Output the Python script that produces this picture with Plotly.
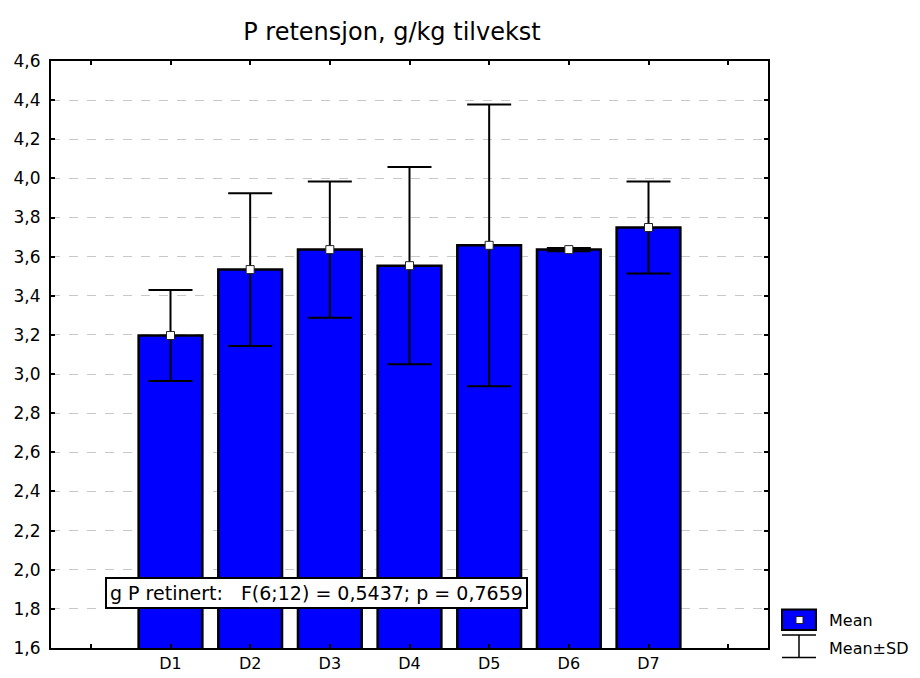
import plotly.graph_objects as go

# Group labels and statistics (mean and standard deviation per diet)
groups = ["D1", "D2", "D3", "D4", "D5", "D6", "D7"]
means = [3.197, 3.534, 3.636, 3.554, 3.658, 3.636, 3.749]
sds = [0.233, 0.390, 0.348, 0.504, 0.720, 0.008, 0.235]

# Category slots: an empty slot on each side of the seven groups
slot_vals = list(range(0, 9))
slot_text = [""] + groups + [""]
xpos = list(range(1, len(groups) + 1))

y_ticks = [1.6 + 0.2 * i for i in range(16)]

title_text = "P retensjon, g/kg tilvekst"
stat_text = "g P retinert:\u00a0\u00a0\u00a0F(6;12) = 0,5437; p = 0,7659"

FONT = "DejaVu Sans, Liberation Sans, Arial, sans-serif"

fig = go.Figure()

fig.add_trace(go.Bar(
    x=xpos, y=means, width=0.8,
    marker=dict(color="#0000FF", line=dict(color="black", width=2.5)),
    showlegend=False, hoverinfo="skip",
))

fig.add_trace(go.Scatter(
    x=xpos, y=means, mode="markers",
    marker=dict(symbol="square", size=8, color="white",
                line=dict(color="#222222", width=1)),
    error_y=dict(type="data", array=sds, visible=True,
                 color="black", thickness=2, width=22),
    showlegend=False, hoverinfo="skip",
))

# Plot area in pixels: x 51..768, y 61..648
L, R, T, B = 51, 768, 61, 648
W, H = 920, 678


def px(x):
    return (x - L) / (R - L)


def py(y):
    return (B - y) / (B - T)


shapes = [
    # legend: bar swatch with mean marker
    dict(type="rect", xref="paper", yref="paper",
         x0=px(782), x1=px(816), y0=py(630), y1=py(609.5),
         fillcolor="#0000FF", line=dict(color="black", width=2)),
    dict(type="rect", xref="paper", yref="paper",
         x0=px(796), x1=px(803), y0=py(623.5), y1=py(616.5),
         fillcolor="white", line=dict(color="#222222", width=1)),
    # legend: error bar glyph
    dict(type="line", xref="paper", yref="paper",
         x0=px(782), x1=px(816), y0=py(635), y1=py(635),
         line=dict(color="black", width=1.5)),
    dict(type="line", xref="paper", yref="paper",
         x0=px(799), x1=px(799), y0=py(635), y1=py(657.5),
         line=dict(color="black", width=1.5)),
    dict(type="line", xref="paper", yref="paper",
         x0=px(782), x1=px(816), y0=py(657.5), y1=py(657.5),
         line=dict(color="black", width=1.5)),
]

annotations = [
    dict(text="Mean", xref="paper", yref="paper", x=px(827), y=py(620),
         xanchor="left", yanchor="middle", showarrow=False,
         font=dict(family=FONT, size=16, color="black")),
    dict(text="Mean±SD", xref="paper", yref="paper", x=px(827), y=py(648),
         xanchor="left", yanchor="middle", showarrow=False,
         font=dict(family=FONT, size=16, color="black")),
    dict(text=stat_text, xref="paper", yref="paper", x=px(316), y=py(593),
         xanchor="center", yanchor="middle", showarrow=False,
         bgcolor="white", bordercolor="black", borderwidth=2, borderpad=3,
         font=dict(family=FONT, size=19, color="black")),
]

fig.update_layout(
    width=W, height=H,
    margin=dict(l=L, r=W - R, t=T, b=H - B, pad=0, autoexpand=False),
    paper_bgcolor="white", plot_bgcolor="white",
    separators=", ",
    title=dict(text=title_text, x=392 / W, xanchor="center",
               y=1 - 32 / H, yanchor="middle",
               font=dict(family=FONT, size=24, color="black")),
    font=dict(family=FONT, size=16, color="black"),
    shapes=shapes, annotations=annotations,
    bargap=0.2,
)

fig.update_xaxes(
    range=[-0.5, 8.5], tickmode="array", tickvals=slot_vals, ticktext=slot_text,
    ticks="inside", ticklen=4, tickwidth=1.5, tickcolor="black",
    showline=True, linecolor="black", linewidth=2, mirror="ticks",
    showgrid=False, zeroline=False, automargin=False,
    tickfont=dict(family=FONT, size=16, color="black"),
)
fig.update_yaxes(
    range=[1.6, 4.6], tickmode="array", tickvals=y_ticks, tickformat=".1f",
    ticks="inside", ticklen=4, tickwidth=1.5, tickcolor="black",
    showline=True, linecolor="black", linewidth=2, mirror="ticks",
    showgrid=True, gridcolor="#c8c8c8", griddash="dash", gridwidth=1,
    zeroline=False, ticklabelstandoff=5, automargin=False,
    tickfont=dict(family=FONT, size=17, color="black"),
)

fig.write_html("out.html")
